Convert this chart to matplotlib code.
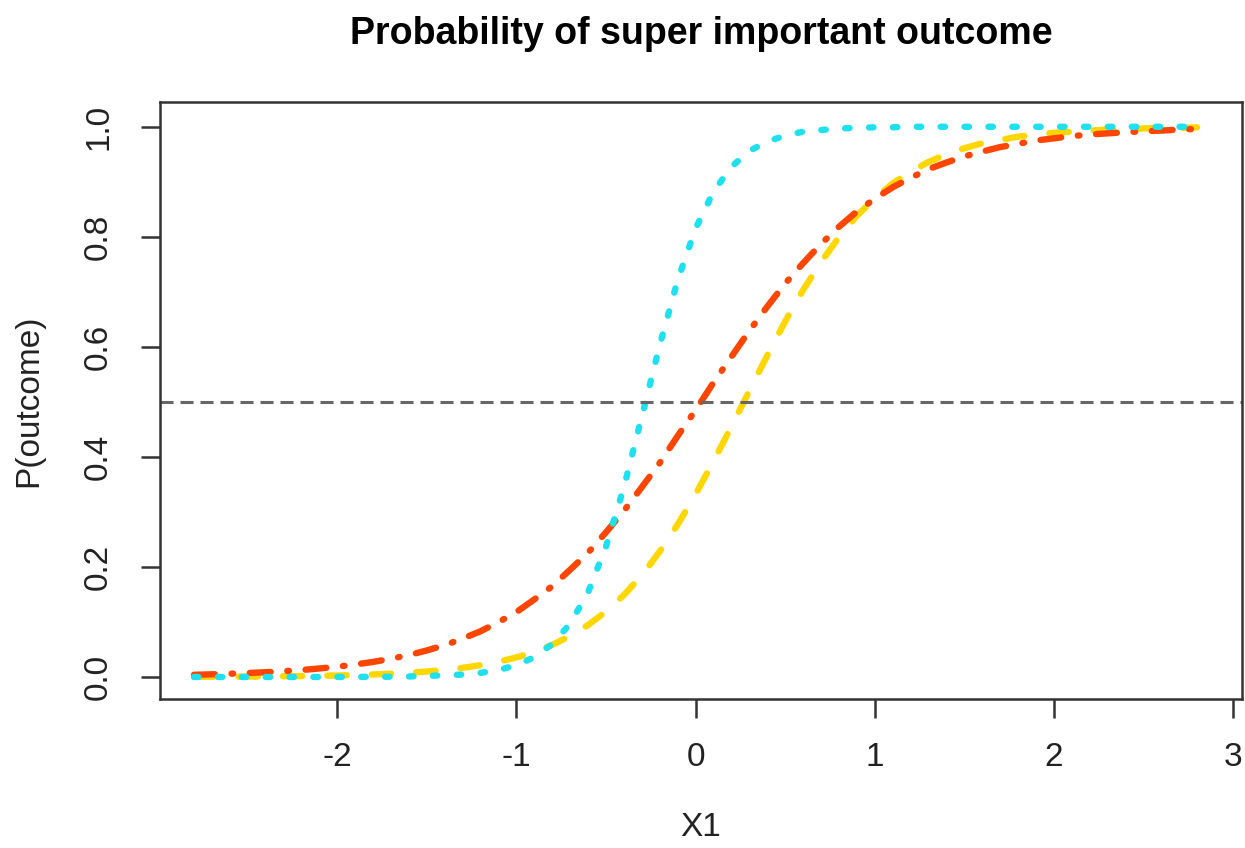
import matplotlib
matplotlib.use("Agg")
import matplotlib.pyplot as plt

plt.rcParams['font.family'] = ['Liberation Sans', 'DejaVu Sans']
plt.rcParams['lines.scale_dashes'] = False

# values
x1 = [-2.8, -2.7, -2.6, -2.5, -2.4, -2.3, -2.2, -2.1, -2.0, -1.9,
      -1.8, -1.7, -1.6, -1.5, -1.4, -1.3, -1.2, -1.1, -1.0, -0.9,
      -0.8, -0.7, -0.6, -0.5, -0.4, -0.3, -0.2, -0.1, 0.0, 0.1,
      0.2, 0.3, 0.4, 0.5, 0.6, 0.7, 0.8, 0.9, 1.0, 1.1,
      1.2, 1.3, 1.4, 1.5, 1.6, 1.7, 1.8, 1.9, 2.0, 2.1,
      2.2, 2.3, 2.4, 2.5, 2.6, 2.7, 2.8]

p_cyan = [0.000, 0.000, 0.000, 0.000, 0.000, 0.000, 0.000, 0.000, 0.0001, 0.0002,
          0.0003, 0.0005, 0.0009, 0.002, 0.003, 0.0045, 0.0075, 0.0127, 0.0215, 0.036,
          0.060, 0.097, 0.154, 0.237, 0.345, 0.473, 0.603, 0.721, 0.815, 0.882,
          0.927, 0.956, 0.973, 0.984, 0.991, 0.994, 0.997, 0.998, 0.999, 0.999,
          1.000, 1.000, 1.000, 1.000, 1.000, 1.000, 1.000, 1.000, 1.000, 1.000,
          1.000, 1.000, 1.000, 1.000, 1.000, 1.000, 1.000]

p_red = [0.004, 0.0049, 0.0059, 0.0072, 0.0087, 0.0106, 0.0127, 0.0155, 0.0187, 0.0228,
         0.0274, 0.0332, 0.0399, 0.0483, 0.0579, 0.0698, 0.0832, 0.0998, 0.118, 0.141,
         0.165, 0.195, 0.226, 0.263, 0.302, 0.345, 0.389, 0.438, 0.485, 0.535,
         0.582, 0.629, 0.673, 0.715, 0.752, 0.787, 0.818, 0.846, 0.869, 0.890,
         0.907, 0.923, 0.935, 0.946, 0.955, 0.963, 0.969, 0.975, 0.979, 0.983,
         0.986, 0.988, 0.990, 0.992, 0.993, 0.995, 0.996]

p_gold = [0.0003, 0.0004, 0.0006, 0.0007, 0.0010, 0.0013, 0.0016, 0.0021, 0.0027, 0.0035,
          0.0046, 0.0059, 0.0077, 0.0100, 0.0129, 0.0166, 0.0215, 0.0277, 0.0356, 0.0457,
          0.0584, 0.0745, 0.0945, 0.119, 0.149, 0.185, 0.228, 0.277, 0.332, 0.392,
          0.455, 0.520, 0.584, 0.646, 0.703, 0.754, 0.799, 0.838, 0.870, 0.897,
          0.918, 0.936, 0.950, 0.961, 0.970, 0.976, 0.982, 0.986, 0.989, 0.991,
          0.993, 0.995, 0.996, 0.997, 0.998, 0.998, 0.999]

threshold = 0.5
x_ticks = [-2, -1, 0, 1, 2, 3]
y_ticks = [0.0, 0.2, 0.4, 0.6, 0.8, 1.0]

fig = plt.figure(figsize=(12.45, 8.48), dpi=100)
ax = fig.add_axes([0.1285, 0.1757, 0.869, 0.704])

lw = 4.6
ax.plot(x1, p_gold, color='#FFD700', lw=lw, linestyle=(0, (14, 18)),
        dash_capstyle='round')
ax.plot(x1, p_red, color='#FF4500', lw=lw, linestyle=(0, (15, 12, 1.2, 12)),
        dash_capstyle='round')
ax.plot(x1, p_cyan, color='#1EE0EE', lw=lw, linestyle=(0, (3.2, 14)),
        dash_capstyle='round')
ax.axhline(threshold, color='#666666', lw=2.2, linestyle=(0, (9.4, 5.0)))

ax.set_xlim(-2.99, 3.05)
ax.set_ylim(-0.04, 1.045)
ax.set_xticks(x_ticks)
ax.set_xticklabels([str(v) for v in x_ticks])
ax.set_yticks(y_ticks)
ax.set_yticklabels([f"{v:.1f}" for v in y_ticks], rotation=90, va='center')

for s in ax.spines.values():
    s.set_color('#333333')
    s.set_linewidth(1.8)
ax.tick_params(direction='out', length=14, width=1.8, color='#333333',
               labelsize=24, labelcolor='#222222')
ax.tick_params(axis='x', pad=17)
ax.tick_params(axis='y', pad=19)

ax.set_xlabel("X1", fontsize=24, color='#222222', labelpad=28)
ax.set_ylabel("P(outcome)", fontsize=24, color='#222222', labelpad=28)
ax.set_title("Probability of super important outcome", fontsize=27,
             fontweight='bold', pad=42)

fig.savefig("out.png", dpi=100)
